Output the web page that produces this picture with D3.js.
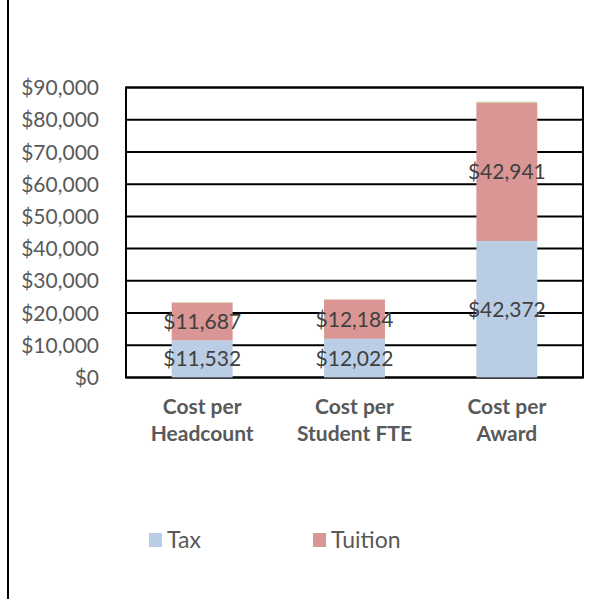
<!DOCTYPE html>
<html><head><meta charset="utf-8">
<script src="https://cdn.jsdelivr.net/npm/d3@7/dist/d3.min.js"></script>
<style>body{margin:0;background:#fff}svg{display:block}</style>
</head><body>
<script>
const categories = [["Cost per","Headcount"],["Cost per","Student FTE"],["Cost per","Award"]];
const taxValues = [11532, 12022, 42372];
const tuitionValues = [11687, 12184, 42941];
const otherValues = [150, 60, 300];
const yTicks = [0,10000,20000,30000,40000,50000,60000,70000,80000,90000];
const legendLabels = ["Tax","Tuition"];

(function(){
const W=603,H=599;
const svg=d3.select("body").append("svg").attr("width",W).attr("height",H);
const font="Lato, 'Liberation Sans', Arial, sans-serif";
const grey="#595959";
const colors={tax:"#b9cde5",tuition:"#d99694",other:"#c3d69b"};

svg.append("line").attr("x1",8).attr("x2",8).attr("y1",0).attr("y2",H).attr("stroke","#000").attr("stroke-width",2);

const pLeft=126,pRight=583,pTop=87.5,pBottom=377.5;
const x=d3.scaleBand().domain(d3.range(categories.length)).range([pLeft,pRight]).paddingInner(0.6).paddingOuter(0.3);
const y=d3.scaleLinear().domain([0,90000]).range([pBottom,pTop]);

svg.append("g").selectAll("line").data(yTicks).enter().append("line")
 .attr("x1",pLeft).attr("x2",pRight).attr("y1",d=>y(d)).attr("y2",d=>y(d))
 .attr("stroke","#000").attr("stroke-width",2);
svg.append("rect").attr("x",pLeft).attr("y",pTop).attr("width",pRight-pLeft).attr("height",pBottom-pTop)
 .attr("fill","none").attr("stroke","#000").attr("stroke-width",2);

const data=categories.map((c,i)=>({i,tax:taxValues[i],tuition:tuitionValues[i],other:otherValues[i]}));
const stack=d3.stack().keys(["tax","tuition","other"])(data);
stack.forEach(layer=>{
  svg.append("g").selectAll("rect").data(layer).enter().append("rect")
   .attr("x",d=>x(d.data.i)).attr("width",x.bandwidth())
   .attr("y",d=>y(d[1])).attr("height",d=>y(d[0])-y(d[1]))
   .attr("fill",colors[layer.key]);
});
const fmt=d=>"$"+d3.format(",")(d);
stack.slice(0,2).forEach(layer=>{
  svg.append("g").selectAll("text").data(layer).enter().append("text")
   .attr("x",d=>x(d.data.i)+x.bandwidth()/2).attr("y",d=>(y(d[0])+y(d[1]))/2)
   .attr("dy","0.36em").attr("text-anchor","middle")
   .attr("font-family",font).attr("font-size",21).attr("fill","#404040")
   .text(d=>fmt(d[1]-d[0]));
});

svg.append("g").selectAll("text").data(yTicks).enter().append("text")
 .attr("x",99).attr("y",d=>y(d)).attr("dy","0.36em").attr("text-anchor","end")
 .attr("font-family",font).attr("font-size",21).attr("fill",grey)
 .text(d=>fmt(d));

const xl=svg.append("g").selectAll("text").data(categories).enter().append("text")
 .attr("text-anchor","middle").attr("font-family",font).attr("font-size",21).attr("font-weight","bold").attr("fill",grey);
xl.each(function(d,i){
  const t=d3.select(this);
  d.forEach((line,j)=>t.append("tspan").attr("x",x(i)+x.bandwidth()/2).attr("y",414+j*27).text(line));
});

const leg=[{label:legendLabels[0],c:colors.tax,x:149},{label:legendLabels[1],c:colors.tuition,x:313}];
const lg=svg.append("g").selectAll("g").data(leg).enter().append("g");
lg.append("rect").attr("x",d=>d.x).attr("y",533).attr("width",13).attr("height",14).attr("fill",d=>d.c);
lg.append("text").attr("x",d=>d.x+18).attr("y",540).attr("dy","0.36em")
 .attr("font-family",font).attr("font-size",23).attr("fill",grey).text(d=>d.label);
})();
</script>
</body></html>
